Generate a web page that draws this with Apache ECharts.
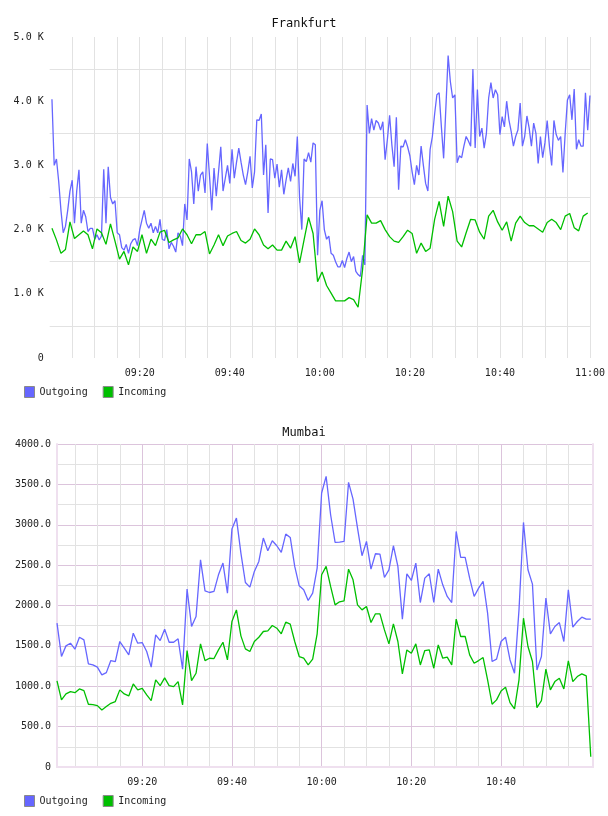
<!DOCTYPE html>
<html>
<head>
<meta charset="utf-8">
<title>Traffic</title>
<script src="https://cdn.jsdelivr.net/npm/echarts@6/dist/echarts.min.js"></script>
<style>
  html, body { margin: 0; padding: 0; background: #fff; }
  #chart { width: 608px; height: 816px; }
</style>
</head>
<body>
<div id="chart"></div>
<script>
// minutes after 09:00 that get a time label
const labelMinutes = [20, 40, 60, 80, 100, 120]

// Frankfurt, K units. outgoing every 30 s from 09:00:30, incoming every minute from 09:00:30
const frankfurtOutgoing = [
  4.03, 3.0, 3.1, 2.75, 2.3, 1.95, 2.05, 2.3, 2.6, 2.77,
  2.1, 2.6, 2.93, 2.1, 2.3, 2.2, 1.97, 2.02, 2.02, 1.85,
  1.92, 1.84, 1.9, 2.94, 2.1, 2.98, 2.5, 2.4, 2.45, 1.95,
  1.92, 1.72, 1.68, 1.77, 1.63, 1.78, 1.84, 1.86, 1.75, 2.0,
  2.15, 2.3, 2.1, 2.02, 2.1, 1.95, 2.05, 1.95, 2.16, 1.85,
  1.83, 2.0, 1.7, 1.8, 1.74, 1.65, 1.95, 1.9, 1.75, 2.4,
  2.15, 3.1, 2.9, 2.4, 2.98, 2.6, 2.85, 2.9, 2.57, 3.34,
  2.83, 2.3, 2.96, 2.52, 2.9, 3.29, 2.6, 2.8, 3.0, 2.72,
  3.25, 2.8, 3.05, 3.27, 3.05, 2.85, 2.7, 2.9, 3.14, 2.65,
  2.9, 3.71, 3.7, 3.8, 2.85, 3.32, 2.26, 3.1, 3.09, 2.8,
  3.02, 2.66, 2.93, 2.55, 2.77, 2.96, 2.75, 3.03, 2.83, 3.45,
  2.5, 2.0, 3.1, 3.06, 3.2, 3.05, 3.35, 3.32, 1.6, 2.3,
  2.45, 2.0, 1.85, 1.9, 1.63, 1.6, 1.5, 1.42, 1.42, 1.52,
  1.41, 1.55, 1.65, 1.5, 1.58, 1.35, 1.3, 1.27, 1.6, 1.45,
  3.94, 3.5, 3.73, 3.55, 3.7, 3.66, 3.55, 3.68, 3.09, 3.4,
  3.78, 3.32, 2.98, 3.75, 2.62, 3.3, 3.29, 3.4, 3.29, 3.15,
  2.9, 2.7, 3.0, 2.85, 3.3, 3.0, 2.72, 2.6, 3.25, 3.45,
  3.8, 4.1, 4.13, 3.6, 3.11, 3.9, 4.71, 4.3, 4.05, 4.1,
  3.04, 3.15, 3.12, 3.3, 3.45, 3.38, 3.3, 4.5, 3.27, 4.18,
  3.45, 3.58, 3.27, 3.5, 4.05, 4.29, 4.05, 4.18, 4.1, 3.48,
  3.76, 3.6, 4.0, 3.71, 3.53, 3.3, 3.45, 3.55, 3.97, 3.3,
  3.45, 3.77, 3.58, 3.3, 3.66, 3.5, 3.03, 3.45, 3.12, 3.35,
  3.7, 3.3, 3.0, 3.7, 3.48, 3.39, 3.45, 2.89, 3.5, 4.02,
  4.1, 3.71, 4.19, 3.25, 3.4, 3.3, 3.3, 4.13, 3.55, 4.09,
]
const frankfurtIncoming = [
  2.02, 1.84, 1.63, 1.69, 2.12, 1.86, 1.92, 1.98, 1.92, 1.70,
  2.01, 1.95, 1.77, 2.09, 1.82, 1.54, 1.66, 1.45, 1.73, 1.66,
  1.92, 1.63, 1.85, 1.75, 1.96, 1.99, 1.80, 1.84, 1.87, 2.01,
  1.92, 1.78, 1.92, 1.92, 1.97, 1.62, 1.76, 1.92, 1.75, 1.90,
  1.94, 1.97, 1.83, 1.79, 1.85, 2.01, 1.92, 1.76, 1.70, 1.76,
  1.68, 1.68, 1.82, 1.71, 1.89, 1.48, 1.84, 2.19, 1.94, 1.19,
  1.34, 1.13, 1.01, 0.89, 0.89, 0.89, 0.94, 0.91, 0.79, 1.38,
  2.23, 2.1, 2.1, 2.14, 2.0, 1.89, 1.82, 1.80, 1.89, 1.99,
  1.94, 1.63, 1.79, 1.66, 1.71, 2.16, 2.44, 2.05, 2.52, 2.28,
  1.82, 1.73, 1.95, 2.16, 2.15, 1.96, 1.85, 2.21, 2.30, 2.12,
  1.99, 2.12, 1.82, 2.10, 2.21, 2.11, 2.06, 2.06, 2.01, 1.96,
  2.11, 2.16, 2.11, 2.0, 2.21, 2.25, 2.03, 1.98, 2.21, 2.26,
]

// Mumbai, one sample a minute from 09:01
const mumbaiOutgoing = [
  1781, 1368, 1500, 1533, 1459, 1607, 1574, 1277, 1264, 1236,
  1140, 1169, 1318, 1306, 1554, 1471, 1388, 1657, 1533, 1541,
  1430, 1236, 1636, 1566, 1707, 1545, 1545, 1587, 1211, 2203,
  1740, 1864, 2566, 2182, 2161, 2174, 2380, 2525, 2153, 2946,
  3083, 2649, 2285, 2227, 2422, 2546, 2835, 2678, 2802, 2740,
  2657, 2884, 2843, 2484, 2244, 2194, 2062, 2153, 2463, 3393,
  3599, 3124, 2781, 2785, 2793, 3525, 3318, 2959, 2616, 2793,
  2450, 2641, 2636, 2347, 2442, 2740, 2484, 1831, 2393, 2310,
  2525, 2037, 2339, 2393, 2037, 2450, 2256, 2112, 2037, 2917,
  2595, 2595, 2339, 2112, 2215, 2298, 1905, 1306, 1335, 1554,
  1607, 1326, 1161, 1946, 3029, 2442, 2265, 1202, 1368, 2091,
  1649, 1740, 1789, 1554, 2194, 1731, 1802, 1855, 1831, 1831,
]
const mumbaiIncoming = [
  1066, 831, 905, 934, 921, 967, 946, 777, 773, 760,
  707, 748, 789, 810, 955, 905, 880, 1029, 955, 975,
  893, 822, 1079, 1008, 1103, 1008, 996, 1058, 769, 1442,
  1070, 1161, 1525, 1318, 1347, 1343, 1450, 1545, 1326, 1802,
  1946, 1624, 1463, 1430, 1554, 1607, 1678, 1686, 1752, 1719,
  1649, 1793, 1769, 1554, 1368, 1347, 1264, 1335, 1650, 2380,
  2484, 2236, 2008, 2046, 2058, 2450, 2318, 2008, 1946, 1988,
  1789, 1897, 1897, 1698, 1525, 1773, 1554, 1153, 1450, 1409,
  1525, 1264, 1442, 1450, 1223, 1512, 1347, 1360, 1264, 1831,
  1616, 1616, 1388, 1285, 1318, 1355, 1079, 777, 831, 942,
  988, 798, 719, 1079, 1843, 1492, 1306, 736, 822, 1211,
  955, 1058, 1099, 967, 1314, 1058, 1120, 1153, 1128, 128,
]

const BLUE = '#6666ff'
const GREEN = '#00bf00'
const MONO = '"DejaVu Sans Mono", monospace'
const GRID_GRAY = '#e2e2e2'
const MAJOR = '#dcc4dc'
const FRAME = '#efe0ef'

function fmtTime(m) {
  const h = 9 + Math.floor(m / 60)
  const mm = m % 60
  return String(h).padStart(2, '0') + ':' + String(mm).padStart(2, '0')
}

const fiveMin = []
for (let m = 5; m < 120; m += 5) if (m % 20 !== 0) fiveMin.push(m)
const mumbaiLabels = labelMinutes.filter((m) => m < 120)

const labelStyle = { fontFamily: MONO, fontSize: 10, color: '#222' }

function legendFor(top) {
  return {
    left: 24,
    top,
    padding: 0,
    itemWidth: 10,
    itemHeight: 11,
    itemGap: 15,
    icon: 'rect',
    textStyle: { fontFamily: MONO, fontSize: 10, color: '#222' },
    data: [
      { name: 'Outgoing', itemStyle: { color: BLUE, borderColor: '#8a8a8a', borderWidth: 1 } },
      { name: 'Incoming', itemStyle: { color: GREEN, borderColor: '#8a8a8a', borderWidth: 1 } },
    ],
  }
}

function lineSeries(name, color, xi, data) {
  return {
    name,
    type: 'line',
    xAxisIndex: xi,
    yAxisIndex: xi === 0 ? 0 : 1,
    data,
    symbol: 'none',
    showSymbol: false,
    lineStyle: { color, width: 1.3 },
    itemStyle: { color },
    silent: true,
  }
}

const option = {
  animation: false,
  backgroundColor: '#fff',
  title: [
    { text: 'Frankfurt', left: 'center', top: 13,
      textStyle: { fontFamily: MONO, fontSize: 12, fontWeight: 'normal', color: '#111' } },
    { text: 'Mumbai', left: 'center', top: 422,
      textStyle: { fontFamily: MONO, fontSize: 12, fontWeight: 'normal', color: '#111' } },
  ],
  legend: [legendFor(386), legendFor(795)],
  grid: [
    { left: 49.7, top: 37, width: 542, height: 321 },
    { left: 57, top: 444, width: 536, height: 323 },
  ],
  xAxis: [
    {
      gridIndex: 0, type: 'value', min: 0, max: 120, interval: 5,
      axisLine: { show: false }, axisTick: { show: false },
      axisLabel: {
        ...labelStyle, margin: 10,
        formatter: (v) => (labelMinutes.includes(v) ? fmtTime(v) : ''),
      },
      splitLine: { show: true, showMinLine: false, lineStyle: { color: GRID_GRAY } },
    },
    {
      gridIndex: 1, type: 'value', min: 1, max: 120.5, position: 'bottom',
      axisLine: { show: true, lineStyle: { color: FRAME, width: 2 } },
      axisTick: { show: false, customValues: mumbaiLabels },
      axisLabel: { ...labelStyle, margin: 10, customValues: mumbaiLabels, formatter: fmtTime },
      splitLine: { show: true, lineStyle: { color: MAJOR } },
    },
    {
      gridIndex: 1, type: 'value', min: 1, max: 120.5, position: 'top',
      axisLine: { show: true, lineStyle: { color: FRAME, width: 2 } },
      axisTick: { show: false, customValues: fiveMin },
      axisLabel: { show: false },
      splitLine: { show: true, lineStyle: { color: GRID_GRAY } },
    },
  ],
  yAxis: [
    {
      gridIndex: 0, type: 'value', min: 0, max: 5000, interval: 1000,
      axisLine: { show: false }, axisTick: { show: false },
      axisLabel: {
        ...labelStyle, margin: 6,
        formatter: (v) => (v === 0 ? '0' : (v / 1000).toFixed(1) + ' K'),
      },
      splitLine: { show: false },
      minorTick: { show: false, splitNumber: 2 },
      minorSplitLine: { show: true, lineStyle: { color: GRID_GRAY } },
    },
    {
      gridIndex: 1, type: 'value', min: 0, max: 4000, interval: 500,
      axisLine: { show: true, lineStyle: { color: FRAME, width: 2 } },
      axisTick: { show: false },
      axisLabel: {
        ...labelStyle, margin: 6,
        formatter: (v) => (v === 0 ? '0' : v.toFixed(1)),
      },
      splitLine: { show: true, lineStyle: { color: MAJOR } },
      minorTick: { show: false, splitNumber: 2 },
      minorSplitLine: { show: true, lineStyle: { color: GRID_GRAY } },
    },
    {
      gridIndex: 1, type: 'value', min: 0, max: 4000, position: 'right',
      axisLine: { show: true, lineStyle: { color: FRAME, width: 2 } },
      axisTick: { show: false }, axisLabel: { show: false },
      splitLine: { show: false },
    },
  ],
  series: [
    lineSeries('Outgoing', BLUE, 0, frankfurtOutgoing.map((v, i) => [0.5 + i * 0.5, v * 1000])),
    lineSeries('Incoming', GREEN, 0, frankfurtIncoming.map((v, i) => [0.5 + i, v * 1000])),
    lineSeries('Outgoing', BLUE, 1, mumbaiOutgoing.map((v, i) => [1 + i, v])),
    lineSeries('Incoming', GREEN, 1, mumbaiIncoming.map((v, i) => [1 + i, v])),
  ],
}

const chart = echarts.init(document.getElementById('chart'), null, { renderer: 'canvas' })
chart.setOption(option)
</script>
</body>
</html>
